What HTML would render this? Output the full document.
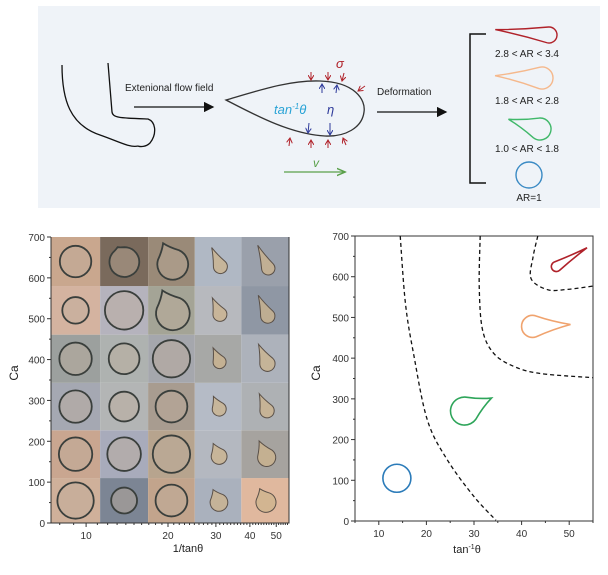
<!DOCTYPE html>
<html><head><meta charset="utf-8"><style>
html,body{margin:0;padding:0;background:#fff;}
svg{display:block;font-family:"Liberation Sans",Arial,sans-serif;}
</style></head><body>
<svg id="fig" width="608" height="575" viewBox="0 0 608 575">
<defs>
<marker id="ak" markerWidth="8" markerHeight="8" refX="7" refY="4" orient="auto"><path d="M0,0 L8,4 L0,8 Z" fill="#111"/></marker>
<marker id="ag" markerWidth="8" markerHeight="8" refX="6" refY="4" orient="auto"><path d="M0,1 L7,4 L0,7" fill="none" stroke="#5aa04a" stroke-width="1.2"/></marker>
<marker id="ar" markerWidth="6" markerHeight="6" refX="5" refY="3" orient="auto"><path d="M0,0 L5,3 L0,6" fill="none" stroke="#b0222a" stroke-width="1"/></marker>
<marker id="ab" markerWidth="6" markerHeight="6" refX="5" refY="3" orient="auto"><path d="M0,0 L5,3 L0,6" fill="none" stroke="#2e3a9a" stroke-width="1"/></marker>
</defs>
<g>
<rect x="38" y="6" width="562" height="202" fill="#eff3f8"/>
<path d="M62,65 C62,100 70,125 100,135 C120,142 130,148 138,146" fill="none" stroke="#111" stroke-width="1.3"/>
<path d="M108,63 L112,112 C113,118 120,118 148,119 C156,122 157,134 150,143 C146,147 140,147 138,146" fill="none" stroke="#111" stroke-width="1.3"/>
<text x="125" y="91" font-size="10" fill="#222">Extenional flow field</text>
<line x1="134" y1="107" x2="213" y2="107" stroke="#111" stroke-width="1.3" marker-end="url(#ak)"/>
<path d="M226,100 C260,90 290,80 320,81 C355,82 366,100 364,112 C362,128 345,137 325,136 C290,134 255,115 226,100 Z" fill="none" stroke="#333" stroke-width="1.3"/>
<text x="274" y="114" font-size="13" font-style="italic" fill="#29a3d6">tan<tspan font-size="8" dy="-5">-1</tspan><tspan dy="5">θ</tspan></text>
<text x="327" y="114" font-size="13" font-style="italic" fill="#2e3a9a">η</text>
<text x="336" y="68" font-size="13" font-style="italic" fill="#b0222a">σ</text>
<g stroke="#b0222a" stroke-width="1">
<line x1="311" y1="72" x2="311" y2="80" marker-end="url(#ar)"/><line x1="328" y1="72" x2="328" y2="80" marker-end="url(#ar)"/><line x1="344" y1="73" x2="342" y2="81" marker-end="url(#ar)"/><line x1="365" y1="86" x2="358" y2="91" marker-end="url(#ar)"/>
<line x1="289" y1="146" x2="290" y2="138" marker-end="url(#ar)"/><line x1="311" y1="148" x2="311" y2="140" marker-end="url(#ar)"/><line x1="328" y1="148" x2="328" y2="140" marker-end="url(#ar)"/><line x1="346" y1="145" x2="343" y2="138" marker-end="url(#ar)"/>
</g>
<g stroke="#2e3a9a" stroke-width="1">
<line x1="322" y1="93" x2="322" y2="84" marker-end="url(#ab)"/><line x1="336" y1="93" x2="337" y2="85" marker-end="url(#ab)"/>
<line x1="309" y1="123" x2="308" y2="133" marker-end="url(#ab)"/><line x1="330" y1="123" x2="330" y2="135" marker-end="url(#ab)"/>
</g>
<text x="313" y="167" font-size="12" font-style="italic" fill="#5aa04a">v</text>
<line x1="284" y1="172" x2="344" y2="172" stroke="#5aa04a" stroke-width="1.2" marker-end="url(#ag)"/>
<text x="377" y="95" font-size="10" fill="#222">Deformation</text>
<line x1="377" y1="112" x2="446" y2="112" stroke="#111" stroke-width="1.3" marker-end="url(#ak)"/>
<path d="M486,34 L470,34 L470,183 L486,183" fill="none" stroke="#111" stroke-width="1.5"/>
<g id="legendShapes"></g>
<g font-size="10" fill="#222" text-anchor="middle">
<text x="527" y="57">2.8 &lt; AR &lt; 3.4</text>
<text x="527" y="104">1.8 &lt; AR &lt; 2.8</text>
<text x="527" y="152">1.0 &lt; AR &lt; 1.8</text>
<text x="529" y="201">AR=1</text>
</g>
</g>
<g id="leftChart"></g>
<g id="rightChart"></g>
</svg>
<script>
// ===== Left chart data =====
const leftCaTicks = [0,100,200,300,400,500,600,700];
const leftXTicks = [10,20,30,40,50];
const colEdges = [7.43, 11.26, 16.9, 25.1, 37.2, 55.7];
const rowEdgesCa = [0, 110, 227, 343, 461, 580, 700];
const cellColors = [
 ["#cfb09a","#7c8594","#c2a48c","#aab1bd","#e0b89e"],
 ["#c9a690","#a8abbb","#b7a48e","#b4b8c0","#a6a39f"],
 ["#a5a8b2","#b3b5b5","#a89c90","#b5bbc6","#aeb1b4"],
 ["#9ca09e","#aeb2b0","#a5a7ad","#a7a8a6","#adb2bb"],
 ["#d4b3a0","#b5b3bd","#a4a496","#b7b9be","#8f97a4"],
 ["#c9a78e","#7a6a5c","#9a8a78","#b0b8c4","#9aa0ab"]
];
// droplet radius (fraction of cell width) & tip length (fraction of radius), row 0 = bottom
const dropR = [[0.37,0.27,0.34,0.19,0.21],[0.34,0.35,0.40,0.17,0.19],[0.33,0.31,0.34,0.15,0.15],[0.33,0.32,0.40,0.14,0.16],[0.27,0.40,0.36,0.15,0.15],[0.32,0.31,0.33,0.15,0.14]];
const dropTip = [[0,0,0,0.6,0.5],[0,0,0,0.8,1.0],[0,0,0,1.0,1.6],[0,0,0,1.4,1.8],[0,0,0.5,1.6,2.2],[0,0.1,0.5,2.0,2.8]];

// ===== Right chart data =====
const rightXTicks = [10,20,30,40,50];
const rightYTicks = [0,100,200,300,400,500,600,700];
const b1x = [14.5,15.6,17.3,20.2,24.4,30.0,34.6];
const b1y = [700,534,411,248,150,60,2];
const b2x = [31.3,31.1,31.8,34.2,38.5,44.1,55];
const b2y = [700,575,469,411,379,362,352];
const b3x = [43.4,42.4,42.0,45.5,49.7,55];
const b3y = [700,648,595,568,569,577];
const shapeX = [13.8, 28.0, 42.3, 47.3];
const shapeY = [105, 270, 478, 625];
const shapeColor = ["#2b7bb9","#2ea55a","#f0a36e","#b0222a"];

const NS="http://www.w3.org/2000/svg";
function mk(tag, attrs, parent){const e=document.createElementNS(NS,tag);for(const k in attrs)e.setAttribute(k,attrs[k]);parent.appendChild(e);return e;}
function dropPath(cx,cy,r,L,ang){
  if(L<=r*1.05){return `M${cx+r},${cy} A${r},${r} 0 1 1 ${cx-r},${cy} A${r},${r} 0 1 1 ${cx+r},${cy} Z`;}
  const a=Math.acos(r/L), c=Math.cos(ang), s=Math.sin(ang);
  const tr=(x,y)=>[cx+x*c-y*s, cy+x*s+y*c];
  const T=tr(L,0), P1=tr(r*Math.cos(a), r*Math.sin(a)), P2=tr(r*Math.cos(a), -r*Math.sin(a));
  const Q1=tr((L+r*Math.cos(a))/2, r*Math.sin(a)*0.35), Q2=tr((L+r*Math.cos(a))/2, -r*Math.sin(a)*0.35);
  return `M${T[0]},${T[1]} Q${Q1[0]},${Q1[1]} ${P1[0]},${P1[1]} A${r},${r} 0 1 1 ${P2[0]},${P2[1]} Q${Q2[0]},${Q2[1]} ${T[0]},${T[1]} Z`;
}

const lg=document.getElementById('legendShapes');
let e;
e=mk('path',{d:dropPath(549,35,8,54,Math.PI+0.1),fill:'none',stroke:'#b0222a','stroke-width':1.4},lg);


e=mk('path',{d:dropPath(542,78,11,47,Math.PI+0.05),fill:'none',stroke:'#f5b88c','stroke-width':1.4},lg);


e=mk('path',{d:dropPath(540,129,11,33,Math.PI+0.3),fill:'none',stroke:'#40b86a','stroke-width':1.4},lg);


e=mk('circle',{cx:529,cy:175,r:13,fill:'none',stroke:'#3a8ac4','stroke-width':1.4},lg);



// ===== Left chart =====
(function(){
 const g=document.getElementById('leftChart');
 const X0=51,X1=289,Y0=523,Y1=237;
 const lmin=Math.log10(7.43), lmax=Math.log10(55.7);
 const xs=v=>X0+(Math.log10(v)-lmin)/(lmax-lmin)*(X1-X0);
 const ys=v=>Y0-(v/700)*(Y0-Y1);
 for(let r=0;r<6;r++){for(let c=0;c<5;c++){
   const x0=xs(colEdges[c]),x1=xs(colEdges[c+1]),y0=ys(rowEdgesCa[r+1]),y1=ys(rowEdgesCa[r]);
   let el=mk('rect',{x:x0,y:y0,width:x1-x0,height:y1-y0,fill:cellColors[r][c]},g);
   
   
   const w=x1-x0,cx=(x0+x1)/2,cy=(y0+y1)/2;
   const rr=dropR[r][c]*w;
   const tip=dropTip[r][c]*rr;
   let d;
   if(tip<=0){d=dropPath(cx,cy,rr,0,0);} else {const ang=-2.0; d=dropPath(cx-Math.cos(ang)*tip*0.4,cy-Math.sin(ang)*tip*0.4,rr,rr+tip,ang);}
   el=mk('path',{d:d,fill:c<3?'rgba(190,172,155,0.45)':'rgba(205,180,140,0.75)',stroke:c<3?'#3a3f3c':'#5a5048','stroke-width':c<3?1.8:1},g);
   
   
 }}
 let el=mk('path',{d:`M${X0},${Y1} L${X0},${Y0} L${X1},${Y0} L${X1},${Y1}`,fill:'none',stroke:'#333','stroke-width':1},g);
 
 
 for(let v=0;v<=700;v+=50){
   const y=ys(v), major=v%100===0;
   mk('line',{x1:X0-(major?4:2),y1:y,x2:X0,y2:y,stroke:'#333','stroke-width':1},g);
 }
 leftCaTicks.forEach(v=>{
   const t=mk('text',{x:X0-6,y:ys(v)+4,'font-size':10,'text-anchor':'end',fill:'#333'},g);
   t.textContent=v;
   
   
 });
 for(let v=8;v<=55;v++){
   const major=leftXTicks.includes(v);
   const x=xs(v);
   mk('line',{x1:x,y1:Y0,x2:x,y2:Y0+(major?4:2),stroke:'#333','stroke-width':1},g);
 }
 leftXTicks.forEach(v=>{
   const t=mk('text',{x:xs(v),y:Y0+16,'font-size':10,'text-anchor':'middle',fill:'#333'},g);
   t.textContent=v;
   
   
 });
 let t=mk('text',{x:188,y:552,'font-size':11,'text-anchor':'middle',fill:'#222'},g);
 t.textContent='1/tanθ';
 
 
 t=mk('text',{x:0,y:0,'font-size':12,'text-anchor':'middle',fill:'#222',transform:'translate(18,373) rotate(-90)'},g);
 t.textContent='Ca';
 
 
})();

// ===== Right chart =====
(function(){
 const g=document.getElementById('rightChart');
 const X0=355,X1=593,Y0=521,Y1=236;
 const xs=v=>X0+(v-5)/50*(X1-X0);
 const ys=v=>Y0-(v/700)*(Y0-Y1);
 let el=mk('rect',{x:X0,y:Y1,width:X1-X0,height:Y0-Y1,fill:'none',stroke:'#333','stroke-width':1},g);
 
 
 for(let v=0;v<=700;v+=50){const y=ys(v);mk('line',{x1:X0-(v%100===0?4:2),y1:y,x2:X0,y2:y,stroke:'#333'},g);}
 for(let v=5;v<=55;v+=5){const x=xs(v);mk('line',{x1:x,y1:Y0,x2:x,y2:Y0+(v%10===0?4:2),stroke:'#333'},g);}
 rightYTicks.forEach(v=>{
   const t=mk('text',{x:X0-6,y:ys(v)+4,'font-size':10,'text-anchor':'end',fill:'#333'},g);
   t.textContent=v;
   
   
 });
 rightXTicks.forEach(v=>{
   const t=mk('text',{x:xs(v),y:Y0+16,'font-size':10,'text-anchor':'middle',fill:'#333'},g);
   t.textContent=v;
   
   
 });
 function smooth(xa,ya){
   const p=xa.map((x,i)=>[xs(x),ys(ya[i])]);
   let d=`M${p[0][0]},${p[0][1]}`;
   for(let i=0;i<p.length-1;i++){
     const p0=p[i-1]||p[i],p1=p[i],p2=p[i+1],p3=p[i+2]||p2;
     const c1=[p1[0]+(p2[0]-p0[0])/6,p1[1]+(p2[1]-p0[1])/6],c2=[p2[0]-(p3[0]-p1[0])/6,p2[1]-(p3[1]-p1[1])/6];
     d+=` C${c1[0]},${c1[1]} ${c2[0]},${c2[1]} ${p2[0]},${p2[1]}`;
   }
   return d;
 }
 [[b1x,b1y,'boundary-low'],[b2x,b2y,'boundary-mid'],[b3x,b3y,'boundary-high']].forEach(([a,b,n])=>{
   const p=mk('path',{d:smooth(a,b),fill:'none',stroke:'#111','stroke-width':1.3,'stroke-dasharray':'4,3'},g);
   
   
 });
 const params=[[14,0,0],[14,30,-0.45],[11,38,-0.05],[5,36,-0.55]];
 shapeX.forEach((v,i)=>{
   const [r,L,a]=params[i];
   const cx=xs(v),cy=ys(shapeY[i]);
   const p=mk('path',{d:dropPath(cx,cy,r,L,a),fill:'none',stroke:shapeColor[i],'stroke-width':1.6},g);
   
   
 });
 let t=mk('text',{x:467,y:553,'font-size':11,'text-anchor':'middle',fill:'#222'},g);
 t.innerHTML='tan<tspan font-size="7" dy="-4">-1</tspan><tspan dy="4">θ</tspan>';
 
 
 t=mk('text',{x:0,y:0,'font-size':12,'text-anchor':'middle',fill:'#222',transform:'translate(320,373) rotate(-90)'},g);
 t.textContent='Ca';
 
 
})();
</script>
</body></html>
